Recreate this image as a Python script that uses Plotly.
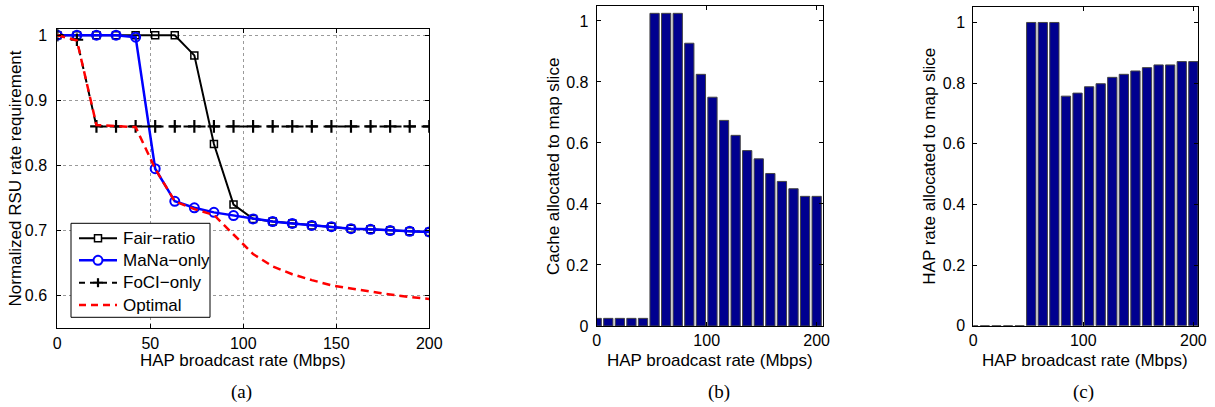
import plotly.graph_objects as go

W, H = 1215, 407

# ---------------- data ----------------
hap_rate = [0, 10.53, 21.05, 31.58, 42.11, 52.63, 63.16, 73.68, 84.21, 94.74,
            105.26, 115.79, 126.32, 136.84, 147.37, 157.89, 168.42, 178.95, 189.47, 200]

fair_ratio = [1, 1, 1, 1, 1, 1, 1, 0.969, 0.833, 0.740,
              0.718, 0.714, 0.711, 0.708, 0.706, 0.703, 0.702, 0.700, 0.699, 0.698]
mana_only = [1, 1, 1, 1, 0.997, 0.795, 0.745, 0.735, 0.728, 0.723,
             0.718, 0.714, 0.711, 0.708, 0.706, 0.703, 0.702, 0.700, 0.699, 0.698]
foci_only = [1, 0.993, 0.86, 0.86, 0.86, 0.86, 0.86, 0.86, 0.86, 0.86,
             0.86, 0.86, 0.86, 0.86, 0.86, 0.86, 0.86, 0.86, 0.86, 0.86]
optimal = [1, 0.992, 0.862, 0.860, 0.859, 0.795, 0.745, 0.733, 0.724, 0.694,
           0.664, 0.645, 0.633, 0.624, 0.616, 0.611, 0.606, 0.602, 0.598, 0.595]

cache_map = [0.025, 0.025, 0.025, 0.025, 0.025, 1.025, 1.025, 1.025, 0.927, 0.825,
             0.750, 0.674, 0.625, 0.575, 0.548, 0.500, 0.474, 0.450, 0.425, 0.425]
hap_map = [0, 0, 0, 0, 0, 1, 1, 1, 0.757, 0.767,
           0.788, 0.798, 0.819, 0.829, 0.840, 0.851, 0.860, 0.860, 0.871, 0.871]

series_names = ["Fair\u2212ratio", "MaNa\u2212only", "FoCI\u2212only", "Optimal"]

a_yticks = [0.6, 0.7, 0.8, 0.9, 1.0]
a_yticklabels = ["0.6", "0.7", "0.8", "0.9", "1"]
a_xticks = [0, 50, 100, 150, 200]
bc_yticks = [0, 0.2, 0.4, 0.6, 0.8, 1.0]
bc_yticklabels = ["0", "0.2", "0.4", "0.6", "0.8", "1"]
bc_xticks = [0, 100, 200]

x_title = "HAP broadcast rate (Mbps)"
y_title_a = "Normalized RSU rate requirement"
y_title_b = "Cache allocated to map slice"
y_title_c = "HAP rate allocated to map slice"
captions = ["(a)", "(b)", "(c)"]

# ---------------- style ----------------
FONT = "Liberation Sans, Arial, Helvetica, sans-serif"
SERIF = "Liberation Serif, Times New Roman, serif"
TICK_FS = 16
TITLE_FS = 17
BAR_COLOR = "#00008F"
BLUE = "#0000FF"
RED = "#FF0000"


def px_x(p):
    return p / W


def px_y(p):
    return 1 - p / H


fig = go.Figure()

fig.add_trace(go.Scatter(
    x=hap_rate, y=fair_ratio, name=series_names[0], mode="lines+markers",
    line=dict(color="black", width=2),
    marker=dict(symbol="square-open", size=7, color="black", line=dict(width=1.5)),
    xaxis="x", yaxis="y", showlegend=False))
fig.add_trace(go.Scatter(
    x=hap_rate, y=mana_only, name=series_names[1], mode="lines+markers",
    line=dict(color=BLUE, width=2.5),
    marker=dict(symbol="circle-open", size=9, color=BLUE, line=dict(width=2)),
    xaxis="x", yaxis="y", showlegend=False))
fig.add_trace(go.Scatter(
    x=hap_rate, y=foci_only, name=series_names[2], mode="lines+markers",
    line=dict(color="black", width=2, dash="8px,6px"),
    marker=dict(symbol="cross-thin-open", size=9, color="black", line=dict(width=2.2, color="black")),
    xaxis="x", yaxis="y", showlegend=False))
fig.add_trace(go.Scatter(
    x=hap_rate, y=optimal, name=series_names[3], mode="lines",
    line=dict(color=RED, width=2.5, dash="8px,5px"),
    xaxis="x", yaxis="y", showlegend=False))

fig.add_trace(go.Bar(
    x=hap_rate, y=cache_map, marker=dict(color=BAR_COLOR, line=dict(color="#444444", width=1)),
    showlegend=False, xaxis="x2", yaxis="y2"))
fig.add_trace(go.Bar(
    x=hap_rate, y=hap_map, marker=dict(color=BAR_COLOR, line=dict(color="#444444", width=1)),
    showlegend=False, xaxis="x3", yaxis="y3"))

axis_common = dict(
    showline=True, linecolor="black", linewidth=1, mirror="ticks",
    ticks="inside", ticklen=4, tickwidth=1, tickcolor="black",
    tickfont=dict(family=FONT, size=TICK_FS, color="black"),
    zeroline=False, automargin=False,
)

fig.update_layout(
    width=W, height=H,
    margin=dict(l=0, r=0, t=0, b=0),
    paper_bgcolor="white", plot_bgcolor="white",
    font=dict(family=FONT, size=TICK_FS, color="black"),
    bargap=0.2, showlegend=False,
    xaxis=dict(axis_common, domain=[px_x(57.3), px_x(429.3)], range=[0, 200],
               tickvals=a_xticks, showgrid=True, gridcolor="#9a9a9a", griddash="dot",
               gridwidth=1, anchor="y"),
    yaxis=dict(axis_common, domain=[px_y(328.3), px_y(28.7)], range=[0.55, 1.01],
               tickvals=a_yticks, ticktext=a_yticklabels, showgrid=True,
               gridcolor="#9a9a9a", griddash="dot", gridwidth=1, anchor="x",
               ticklabelstandoff=6),
    xaxis2=dict(axis_common, domain=[px_x(596.7), px_x(822.7)], range=[0, 205.5],
                tickvals=bc_xticks, showgrid=False, anchor="y2"),
    yaxis2=dict(axis_common, domain=[px_y(326), px_y(5.7)], range=[0, 1.05],
                tickvals=bc_yticks, ticktext=bc_yticklabels, showgrid=False, anchor="x2",
                ticklabelstandoff=4),
    xaxis3=dict(axis_common, domain=[px_x(973.3), px_x(1198.3)], range=[0, 204.5],
                tickvals=bc_xticks, showgrid=False, anchor="y3"),
    yaxis3=dict(axis_common, domain=[px_y(325.7), px_y(7.3)], range=[0, 1.05],
                tickvals=bc_yticks, ticktext=bc_yticklabels, showgrid=False, anchor="x3",
                ticklabelstandoff=4),
)

ann = []
shapes = []
# x axis titles
for cx in (242.5, 710, 1085):
    ann.append(dict(x=px_x(cx), y=px_y(360), xref="paper", yref="paper", text=x_title,
                    showarrow=False, xanchor="center", yanchor="middle",
                    font=dict(family=FONT, size=TITLE_FS, color="black")))
# y axis titles
for cx, cy, t in ((15, 178.5, y_title_a), (553, 167, y_title_b), (930, 166.7, y_title_c)):
    ann.append(dict(x=px_x(cx), y=px_y(cy), xref="paper", yref="paper", text=t,
                    textangle=-90, showarrow=False, xanchor="center", yanchor="middle",
                    font=dict(family=FONT, size=TITLE_FS, color="black")))
# captions
for cx, t in zip((241, 719, 1083), captions):
    ann.append(dict(x=px_x(cx), y=px_y(392), xref="paper", yref="paper", text=t,
                    showarrow=False, xanchor="center", yanchor="middle",
                    font=dict(family=SERIF, size=19, color="black")))

# ---------------- legend (MATLAB-style box) ----------------
LX0, LX1, LY0, LY1 = 71, 210, 223.3, 317.3
row_y = [238.3, 260.3, 282.7, 305]
SX0, SX1, SXM, TX = 79, 117, 98, 121
shapes.append(dict(type="rect", xref="paper", yref="paper",
                   x0=px_x(LX0), x1=px_x(LX1), y0=px_y(LY1), y1=px_y(LY0),
                   line=dict(color="black", width=1), fillcolor="white", layer="above"))
leg_styles = [
    dict(color="black", width=2, dash="solid"),
    dict(color=BLUE, width=2.5, dash="solid"),
    dict(color="black", width=2, dash="6px,5px"),
    dict(color=RED, width=2.5, dash="7px,5px"),
]
for ry, name, st in zip(row_y, series_names, leg_styles):
    shapes.append(dict(type="line", xref="paper", yref="paper",
                       x0=px_x(SX0), x1=px_x(SX1), y0=px_y(ry), y1=px_y(ry),
                       line=st, layer="above"))
    ann.append(dict(x=px_x(TX), y=px_y(ry), xref="paper", yref="paper", text=name,
                    showarrow=False, xanchor="left", yanchor="middle",
                    font=dict(family=FONT, size=TITLE_FS, color="black")))
# legend markers
r0 = row_y[0]
shapes.append(dict(type="rect", xref="paper", yref="paper",
                   x0=px_x(SXM - 3.5), x1=px_x(SXM + 3.5), y0=px_y(r0 + 3.5), y1=px_y(r0 - 3.5),
                   line=dict(color="black", width=1.5), fillcolor="white", layer="above"))
r1 = row_y[1]
shapes.append(dict(type="circle", xref="paper", yref="paper",
                   x0=px_x(SXM - 4.5), x1=px_x(SXM + 4.5), y0=px_y(r1 + 4.5), y1=px_y(r1 - 4.5),
                   line=dict(color=BLUE, width=2), fillcolor="white", layer="above"))
r2 = row_y[2]
shapes.append(dict(type="rect", xref="paper", yref="paper",
                   x0=px_x(SXM - 4), x1=px_x(SXM + 4), y0=px_y(r2 + 1.5), y1=px_y(r2 - 1.5),
                   line=dict(width=0), fillcolor="white", layer="above"))
shapes.append(dict(type="line", xref="paper", yref="paper",
                   x0=px_x(SXM - 4.5), x1=px_x(SXM + 4.5), y0=px_y(r2), y1=px_y(r2),
                   line=dict(color="black", width=2.2), layer="above"))
shapes.append(dict(type="line", xref="paper", yref="paper",
                   x0=px_x(SXM), x1=px_x(SXM), y0=px_y(r2 + 4.5), y1=px_y(r2 - 4.5),
                   line=dict(color="black", width=2.2), layer="above"))

fig.update_layout(annotations=ann, shapes=shapes)

fig.write_html("out.html")
